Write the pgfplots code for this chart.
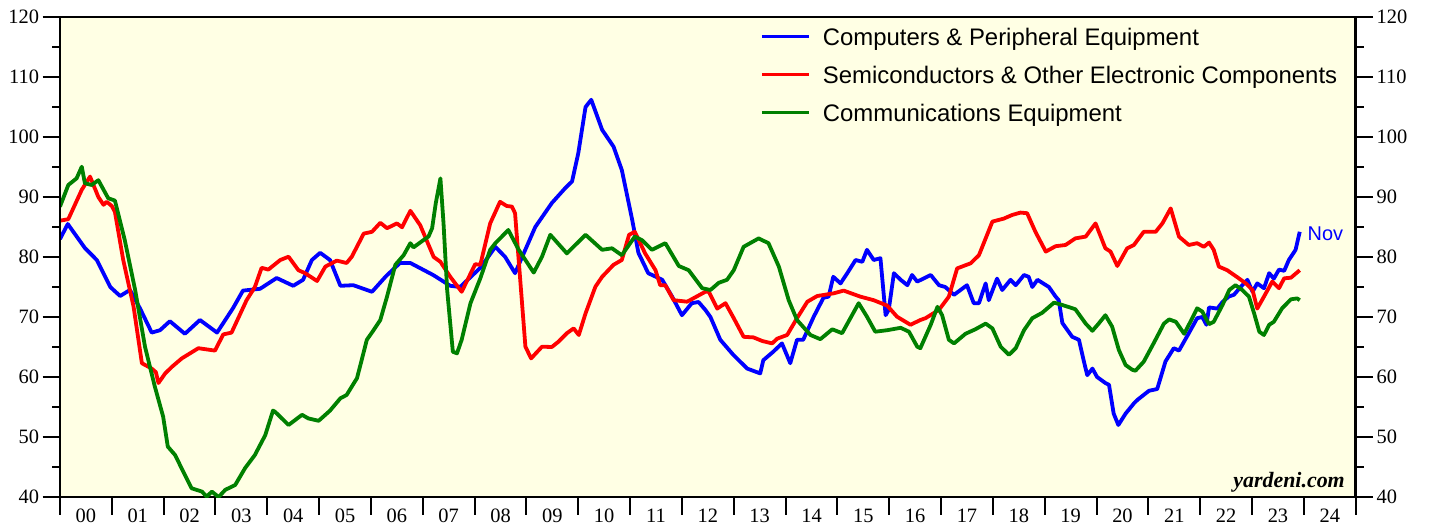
\documentclass[border=0pt]{standalone}
\usepackage{pgfplots}
\pgfplotsset{compat=1.18}
\usepackage{fontspec}
\setmainfont{Liberation Serif}
\newfontfamily\arialf{Liberation Sans}
\definecolor{bg}{RGB}{255,255,228}
\definecolor{cgreen}{RGB}{0,128,0}

\pgfplotstableread{
t v
2000.00 83
2000.15 85.5
2000.48 81.5
2000.71 79.5
2000.97 75
2001.16 73.5
2001.35 74.5
2001.54 71.5
2001.77 67.4
2001.93 67.8
2002.12 69.3
2002.41 67.2
2002.70 69.5
2003.03 67.4
2003.34 71.5
2003.53 74.4
2003.86 74.7
2004.18 76.5
2004.50 75.2
2004.69 76.2
2004.86 79.5
2005.02 80.7
2005.21 79.5
2005.41 75.2
2005.66 75.3
2006.02 74.2
2006.29 76.8
2006.56 79
2006.76 79
2007.20 77
2007.53 75.2
2007.72 75
2008.11 78.2
2008.40 81.7
2008.59 80
2008.78 77.3
2009.17 85
2009.49 89
2009.75 91.5
2009.88 92.6
2010.00 97.3
2010.14 105
2010.25 106.2
2010.46 101.2
2010.68 98.4
2010.84 94.5
2011.04 86.2
2011.16 80.7
2011.35 77.3
2011.62 76.2
2011.81 73.4
2012.00 70.3
2012.19 72.3
2012.32 72.5
2012.45 71.2
2012.55 70
2012.74 66.2
2012.99 63.7
2013.26 61.4
2013.51 60.6
2013.57 62.8
2013.76 64.2
2013.93 65.6
2014.09 62.3
2014.22 66.2
2014.34 66.2
2014.54 70
2014.73 73.2
2014.83 73.4
2014.92 76.7
2015.06 75.6
2015.19 77.3
2015.35 79.5
2015.48 79.2
2015.57 81.2
2015.70 79.5
2015.83 79.8
2015.93 70.3
2015.99 71.2
2016.09 77.3
2016.22 76.2
2016.35 75.3
2016.44 77
2016.54 75.9
2016.80 77
2016.96 75.3
2017.08 75
2017.25 73.7
2017.50 75.3
2017.63 72.3
2017.73 72.3
2017.86 75.6
2017.92 72.8
2018.08 76.4
2018.18 74.5
2018.34 76.2
2018.44 75.3
2018.60 77
2018.69 76.7
2018.76 75
2018.86 76.2
2019.08 75
2019.21 73.4
2019.27 72.8
2019.34 69
2019.53 66.7
2019.66 66.2
2019.75 62.8
2019.82 60.3
2019.92 61.4
2020.01 60
2020.17 59
2020.24 58.7
2020.33 53.9
2020.42 52
2020.56 53.9
2020.72 55.6
2020.79 56.2
2021.01 57.7
2021.17 58
2021.33 62.6
2021.49 64.8
2021.59 64.4
2021.78 67.3
2021.94 69.8
2022.04 70
2022.12 68.7
2022.17 71.6
2022.33 71.4
2022.43 72.5
2022.55 73.4
2022.65 73.7
2022.78 75
2022.91 76.2
2023.01 74.2
2023.10 75.6
2023.23 74.8
2023.33 77.3
2023.42 76.4
2023.52 77.9
2023.62 77.7
2023.71 79.5
2023.84 81.2
2023.92 84.2
}\computers

\pgfplotstableread{
t v
2000.00 86.05
2000.16 86.3
2000.42 91.2
2000.58 93.4
2000.74 90
2000.84 88.7
2000.90 89.2
2001.00 88.5
2001.06 87.5
2001.22 79.5
2001.42 71.7
2001.58 62.3
2001.77 61.4
2001.85 60.8
2001.90 59
2002.03 60.6
2002.16 61.7
2002.35 63.1
2002.67 64.8
2002.99 64.4
2003.15 67.1
2003.31 67.4
2003.60 72.8
2003.76 75
2003.89 78.2
2004.02 77.9
2004.25 79.5
2004.41 80.05
2004.60 77.8
2004.73 77.3
2004.96 76
2005.12 78.4
2005.34 79.4
2005.53 79
2005.63 80.05
2005.86 83.9
2006.02 84.2
2006.18 85.7
2006.31 84.8
2006.50 85.6
2006.60 84.95
2006.76 87.7
2006.95 85.3
2007.21 80
2007.34 79.2
2007.53 76.7
2007.75 74.2
2008.01 78.8
2008.11 78.7
2008.30 85.6
2008.49 89.2
2008.62 88.5
2008.72 88.4
2008.78 87.3
2008.98 65.05
2009.09 63.1
2009.30 65.05
2009.49 65
2009.62 65.9
2009.78 67.3
2009.91 68.1
2010.01 67
2010.14 70.6
2010.33 75.05
2010.46 76.7
2010.68 78.7
2010.84 79.5
2010.98 83.7
2011.09 84.2
2011.29 80.6
2011.49 77.8
2011.58 75.3
2011.68 75.3
2011.84 72.8
2012.10 72.55
2012.26 73.3
2012.45 74.2
2012.52 74.2
2012.68 71.4
2012.84 72.3
2013.00 69.8
2013.19 66.7
2013.38 66.6
2013.55 66
2013.74 65.6
2013.84 66.4
2014.03 67
2014.22 69.8
2014.42 72.55
2014.61 73.5
2014.93 73.95
2015.12 74.4
2015.44 73.4
2015.70 72.8
2015.96 71.9
2016.15 70.05
2016.41 68.7
2016.60 69.5
2016.70 69.8
2016.96 71.2
2017.15 73.4
2017.31 78.1
2017.57 78.95
2017.73 80.3
2017.99 85.9
2018.21 86.4
2018.37 87
2018.53 87.4
2018.66 87.3
2018.82 84.2
2019.02 80.9
2019.21 81.8
2019.40 82
2019.59 83.1
2019.79 83.4
2019.98 85.6
2020.17 81.45
2020.27 80.9
2020.40 78.5
2020.59 81.45
2020.72 82
2020.91 84.2
2021.14 84.2
2021.27 85.6
2021.43 88.1
2021.59 83.4
2021.78 82
2021.94 82.3
2022.07 81.7
2022.17 82.4
2022.26 81.2
2022.36 78.4
2022.52 77.8
2022.72 76.6
2022.88 75.6
2023.01 74.5
2023.10 71.4
2023.23 73.4
2023.39 75.9
2023.52 74.8
2023.62 76.45
2023.75 76.55
2023.92 77.8
}\semis

\pgfplotstableread{
t v
2000.00 88.4
2000.16 92
2000.32 93.1
2000.42 95.05
2000.48 92.3
2000.61 92
2000.74 92.8
2000.93 89.8
2001.06 89.4
2001.25 82.8
2001.45 74.5
2001.64 65.05
2001.83 58.4
2001.99 53.4
2002.08 48.4
2002.22 47
2002.38 44.2
2002.54 41.45
2002.74 40.9
2002.83 40.05
2002.93 40.9
2003.06 40
2003.19 41.2
2003.38 42
2003.57 44.8
2003.76 47
2003.96 50.3
2004.11 54.4
2004.15 54.2
2004.41 52
2004.67 53.7
2004.79 53.1
2004.99 52.7
2005.12 53.7
2005.21 54.4
2005.41 56.45
2005.53 57
2005.73 59.8
2005.82 62.8
2005.92 66.2
2006.05 67.8
2006.18 69.5
2006.31 73.4
2006.47 78.7
2006.63 80.3
2006.76 82.3
2006.82 81.6
2007.01 82.8
2007.11 83.4
2007.18 84.8
2007.25 88.95
2007.34 93.1
2007.40 85.6
2007.47 74.5
2007.58 64.2
2007.66 63.95
2007.75 66.2
2007.92 72.3
2008.11 76.45
2008.30 81.2
2008.40 82.3
2008.65 84.5
2008.85 81.2
2009.14 77.4
2009.30 80.05
2009.46 83.7
2009.78 80.6
2010.14 83.7
2010.46 81.2
2010.65 81.45
2010.84 80.3
2011.09 83.4
2011.23 82.8
2011.42 81.2
2011.68 82.3
2011.94 78.5
2012.13 77.8
2012.39 74.8
2012.55 74.5
2012.71 75.7
2012.87 76.2
2013.00 77.8
2013.19 81.7
2013.48 83.1
2013.67 82.3
2013.87 78.4
2014.06 72.8
2014.22 69.5
2014.48 67
2014.67 66.3
2014.90 67.95
2015.09 67.3
2015.25 69.8
2015.41 72.3
2015.57 70.05
2015.73 67.55
2015.96 67.8
2016.22 68.2
2016.38 67.55
2016.54 65.05
2016.60 64.8
2016.80 68.7
2016.93 71.7
2017.02 70.3
2017.15 66.2
2017.25 65.6
2017.47 67.2
2017.66 67.95
2017.86 68.9
2017.99 68.1
2018.15 65.05
2018.31 63.7
2018.44 64.8
2018.60 67.8
2018.76 69.8
2018.95 70.7
2019.18 72.4
2019.34 72
2019.59 71.3
2019.79 68.9
2019.92 67.7
2020.04 68.9
2020.17 70.3
2020.30 68.4
2020.43 64.5
2020.56 62
2020.69 61.2
2020.75 61.05
2020.91 62.55
2021.10 65.6
2021.30 68.9
2021.40 69.6
2021.53 69.2
2021.69 67.2
2021.81 69.2
2021.94 71.45
2022.04 70.9
2022.17 68.8
2022.26 69.2
2022.43 72
2022.56 74.5
2022.68 75.3
2022.81 74.5
2022.94 73.4
2023.04 70.6
2023.14 67.55
2023.23 67
2023.33 68.7
2023.42 69.2
2023.58 71.45
2023.75 72.95
2023.87 73.1
2023.92 72.8
}\comms

\begin{document}
\begin{tikzpicture}
\begin{axis}[
  name=ax,
  scale only axis, width=1295.7bp, height=480bp,
  xmin=2000, xmax=2025, ymin=40, ymax=120,
  axis background/.style={fill=bg},
  axis line style={line width=2.8bp},
  xtick={2000,2001,...,2025},
  xticklabels={00,01,02,03,04,05,06,07,08,09,10,11,12,13,14,15,16,17,18,19,20,21,22,23,24},
  x tick label as interval,
  xtick pos=bottom,
  xticklabel style={yshift=9bp},
  ytick={40,50,...,120},
  minor ytick={45,55,...,115},
  ytick pos=left,
  tick align=outside,
  major tick length=17.5bp, minor tick length=8bp,
  tick style={black, line width=2bp},
  ticklabel style={font=\fontsize{20.5}{24}\selectfont},
  /pgf/number format/assume math mode=true,
  legend style={draw=none, fill=none, at={(0.5403,0.9865)}, anchor=north west,
    inner sep=0pt, outer sep=0pt, font=\arialf\fontsize{24}{28}\selectfont,
    row sep=12bp, column sep=12bp,
    nodes={inner sep=0pt, text height=22bp, text depth=4bp}},
  legend cell align=left,
  legend image code/.code={\draw[#1] (0bp,0bp) -- (47bp,0bp);},
  every axis plot/.append style={line width=3.8bp, line join=round},
]
\addplot[color=blue] table[x=t,y=v]{\computers};
\addlegendentry{Computers \& Peripheral Equipment}
\addplot[color=red] table[x=t,y=v]{\semis};
\addlegendentry{Semiconductors \& Other Electronic Components}
\addplot[color=cgreen] table[x=t,y=v]{\comms};
\addlegendentry{Communications Equipment}
\node[anchor=base east, inner sep=0pt, font=\bfseries\itshape\fontsize{22}{26}\selectfont] at (rel axis cs:0.9917,0.0208) {yardeni.com};
\node[anchor=base west, inner sep=0pt, text=blue, font=\arialf\fontsize{20}{24}\selectfont, xshift=7.7bp] at (axis cs:2023.92,82.8) {Nov};
\end{axis}
\begin{axis}[
  scale only axis, width=1295.7bp, height=480bp,
  xmin=2000, xmax=2025, ymin=40, ymax=120,
  hide x axis,
  axis line style={line width=2.8bp},
  ytick={40,50,...,120},
  minor ytick={45,55,...,115},
  ytick pos=right, yticklabel pos=right,
  tick align=outside,
  major tick length=17.5bp, minor tick length=8bp,
  tick style={black, line width=2bp},
  ticklabel style={font=\fontsize{20.5}{24}\selectfont},
  /pgf/number format/assume math mode=true,
]
\end{axis}
\pgfresetboundingbox
\path ([shift={(-60bp,-29bp)}]ax.south west) rectangle ([shift={(75.3bp,17bp)}]ax.north east);
\end{tikzpicture}
\end{document}
